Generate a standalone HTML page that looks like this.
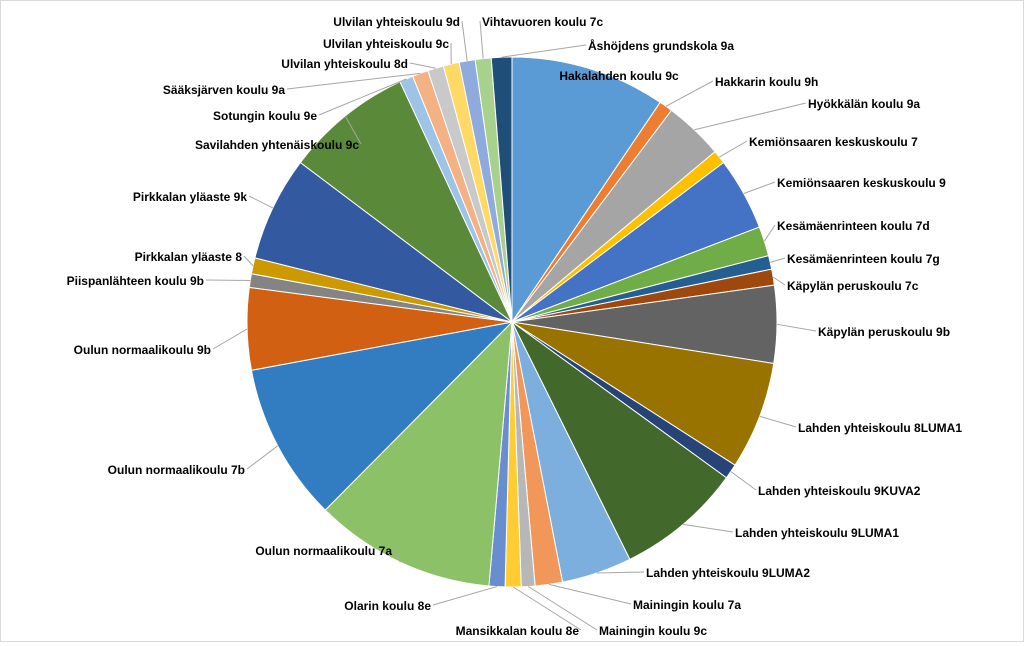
<!DOCTYPE html>
<html><head><meta charset="utf-8">
<style>
html,body{margin:0;padding:0;background:#fff;}
#wrap{position:relative;width:1024px;height:642px;box-sizing:border-box;border:1px solid #d9d9d9;background:#fff;}
svg text{font-family:"Liberation Sans",sans-serif;font-weight:bold;font-size:12px;fill:#000;}
</style></head>
<body>
<div id="wrap">
<svg id="chart" width="1022" height="640"></svg>
</div>
<script>
const categories = ["Hakalahden koulu 9c","Hakkarin koulu 9h","Hyökkälän koulu 9a","Kemiönsaaren keskuskoulu 7","Kemiönsaaren keskuskoulu 9","Kesämäenrinteen koulu 7d","Kesämäenrinteen koulu 7g","Käpylän peruskoulu 7c","Käpylän peruskoulu 9b","Lahden yhteiskoulu 8LUMA1","Lahden yhteiskoulu 9KUVA2","Lahden yhteiskoulu 9LUMA1","Lahden yhteiskoulu 9LUMA2","Mainingin koulu 7a","Mainingin koulu 9c","Mansikkalan koulu  8e","Olarin koulu 8e","Oulun normaalikoulu 7a","Oulun normaalikoulu 7b","Oulun normaalikoulu 9b","Piispanlähteen koulu 9b","Pirkkalan yläaste 8","Pirkkalan yläaste 9k","Savilahden yhtenäiskoulu 9c","Sotungin koulu 9e","Sääksjärven koulu 9a","Ulvilan yhteiskoulu 8d","Ulvilan yhteiskoulu 9c","Ulvilan yhteiskoulu 9d","Vihtavuoren koulu 7c","Åshöjdens grundskola 9a"];
const values = [34,3,13,3,16,6.5,3,3.5,17,23.7,3.3,27.6,15.4,6,3,3.5,3.5,39.8,34.7,18,3,3.5,23,28,3,3.5,3.5,3.5,3.5,3.5,4.5];
const colors = ["#5B9BD5","#ED7D31","#A5A5A5","#FFC000","#4472C4","#70AD47","#255E91","#9E480E","#636363","#997300","#264478","#43682B","#7CAFDD","#F1975A","#B7B7B7","#FFCD33","#698ED0","#8CC168","#327DC2","#D26012","#848484","#CC9A00","#335AA1","#5A8A39","#9DC3E6","#F4B183","#C9C9C9","#FFD966","#8FAADC","#A9D18E","#1F4E79"];
// label placement: [x, y, anchor, leaderEndX, leaderEndY] (layout only)
const labelPos = [[618,79,"middle",null,null],[714,85,"start",712,80],[807,107,"start",805,102],[748,145,"start",746,140],[776,186,"start",774,181],[776,229,"start",774,224],[786,262,"start",784,257],[786,289,"start",784,284],[817,335,"start",815,330],[797,431,"start",795,426],[757,494,"start",755,489],[734,536,"start",732,531],[645,576,"start",643,571],[632,608,"start",630,603],[598,634,"start",596,629],[578,634,"end",580,629],[430,609,"end",432,604],[391,554,"end",393,549],[244,473,"end",246,468],[210,353,"end",212,348],[203,284,"end",205,279],[241,260,"end",243,255],[246,200,"end",248,195],[358,148,"end",360,143],[316,119,"end",318,114],[284,93,"end",286,88],[407,67,"end",409,62],[448,47,"end",450,42],[459,25,"end",461,20],[481,25,"start",479,20],[587,49,"start",585,44]];
const NS="http://www.w3.org/2000/svg";
const svg=document.getElementById('chart');
const cx=511, cy=321, R=265;
const total=values.reduce((a,b)=>a+b,0);
function angScale(v){return v/total*2*Math.PI;}
function pt(a,r){return [cx+r*Math.sin(a), cy-r*Math.cos(a)];}
let a0=0;
const mids=[];
values.forEach((v,i)=>{
  const a1=a0+angScale(v);
  const p0=pt(a0,R),p1=pt(a1,R);
  const large=(a1-a0)>Math.PI?1:0;
  const path=document.createElementNS(NS,'path');
  path.setAttribute('d',`M${cx},${cy} L${p0[0]},${p0[1]} A${R},${R} 0 ${large} 1 ${p1[0]},${p1[1]} Z`);
  path.setAttribute('fill',colors[i%colors.length]);
  path.setAttribute('stroke','#fff');
  path.setAttribute('stroke-width','1');
  
  
  svg.appendChild(path);
  mids.push((a0+a1)/2);
  a0=a1;
});
categories.forEach((c,i)=>{
  const lp=labelPos[i];
  if(lp[3]!==null){
    const e=pt(mids[i],R);
    const ln=document.createElementNS(NS,'polyline');
    ln.setAttribute('points',`${e[0]},${e[1]} ${lp[3]},${lp[4]}`);
    ln.setAttribute('fill','none');
    ln.setAttribute('stroke','#a6a6a6');
    ln.setAttribute('stroke-width','1');
    
    
    svg.appendChild(ln);
  }
  const t=document.createElementNS(NS,'text');
  t.setAttribute('x',lp[0]);t.setAttribute('y',lp[1]);
  t.setAttribute('text-anchor',lp[2]);
  t.setAttribute('xml:space','preserve');
  t.textContent=c;
  
  
  svg.appendChild(t);
});
</script>
</body></html>
